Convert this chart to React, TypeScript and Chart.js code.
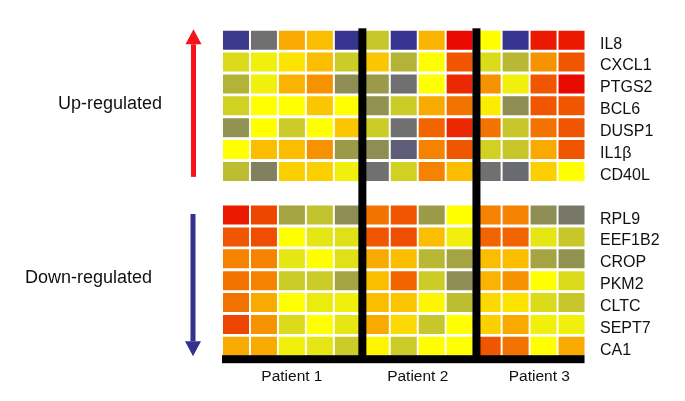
import React, { useEffect, useRef } from 'react';
import { Chart, registerables } from 'chart.js';

Chart.register(...registerables);

// 13 sample columns: Patient 1 (5), Patient 2 (4), Patient 3 (4)
const columns = ['P1-a', 'P1-b', 'P1-c', 'P1-d', 'P1-e', 'P2-a', 'P2-b', 'P2-c', 'P2-d', 'P3-a', 'P3-b', 'P3-c', 'P3-d'];
const patients = ['Patient 1', 'Patient 2', 'Patient 3'];
const patientLabelColumn = [2, 6.5, 10.85];
const dividerColumns = [4.52, 8.6];

const upGenes = ['IL8', 'CXCL1', 'PTGS2', 'BCL6', 'DUSP1', 'IL1β', 'CD40L'];
const downGenes = ['RPL9', 'EEF1B2', 'CROP', 'PKM2', 'CLTC', 'SEPT7', 'CA1'];

// expression scores: -3 blue, -2 grey, -1 olive, 0 olive-yellow, 1 yellow, 2 orange, 3 red
const upValues = [
  [-2.9, -2.0, 1.9, 1.7, -3.0, -0.1, -3.0, 1.8, 3.0, 1.0, -3.0, 2.9, 2.9],
  [0.3, 0.7, 1.3, 1.7, 0.0, 1.6, -0.5, 1.0, 2.5, 0.3, -0.4, 2.1, 2.5],
  [-0.5, 0.7, 1.8, 2.1, -1.3, -1.0, -2.0, 1.0, 2.8, 2.1, 0.7, 2.5, 3.0],
  [0.1, 1.0, 1.0, 1.6, 1.0, -1.2, 0.0, 1.9, 2.3, 1.2, -1.3, 2.5, 2.5],
  [-1.2, 1.0, 0.0, 1.0, 1.6, 0.0, -2.0, 2.4, 2.8, 2.3, -0.1, 2.3, 2.5],
  [1.0, 1.7, 1.7, 2.1, -1.0, -1.3, -2.3, 2.2, 2.5, 0.1, -0.1, 1.9, 2.5],
  [-0.3, -1.6, 1.5, 1.5, 0.7, -2.0, 0.1, 2.2, 1.7, -2.0, -2.1, 1.5, 1.0],
];
const downValues = [
  [2.9, 2.6, -0.8, -0.2, -1.3, 2.3, 2.5, -1.0, 1.0, 2.2, 2.2, -1.3, -1.8],
  [2.5, 2.55, 1.0, 0.5, 0.4, 2.5, 2.55, 1.7, 0.7, 2.4, 2.4, 0.5, -0.1],
  [2.2, 2.2, 0.5, 1.0, 0.4, 1.9, 1.7, -0.4, -0.8, 1.7, 1.7, -0.8, -1.2],
  [2.3, 2.2, 0.0, 0.0, -0.8, 1.7, 2.4, 0.0, -1.3, 1.8, 2.1, 1.0, 0.3],
  [2.3, 1.9, 1.0, 0.6, 0.7, 1.7, 1.6, 1.1, -0.3, 1.4, 1.3, 0.3, -0.1],
  [2.6, 2.1, 0.3, 1.0, 0.5, 1.9, 1.4, -0.1, 1.0, 1.5, 1.9, 0.7, 0.7],
  [1.9, 1.9, 0.7, 0.5, 0.0, 1.1, 0.0, 1.0, 1.0, 2.5, 2.3, 1.0, 1.9],
];

const colorStops: [number, [number, number, number]][] = [
  [-3, [53, 53, 143]],
  [-2, [112, 112, 112]],
  [-1, [154, 154, 72]],
  [0, [204, 204, 40]],
  [1, [255, 255, 0]],
  [2, [248, 160, 0]],
  [3, [232, 10, 0]],
];

function colorFor(v: number): string {
  if (v <= colorStops[0][0]) {
    const c = colorStops[0][1];
    return `rgb(${c[0]},${c[1]},${c[2]})`;
  }
  for (let i = 0; i < colorStops.length - 1; i++) {
    const [a, ca] = colorStops[i];
    const [b, cb] = colorStops[i + 1];
    if (v <= b) {
      const t = (v - a) / (b - a);
      const r = Math.round(ca[0] + (cb[0] - ca[0]) * t);
      const g = Math.round(ca[1] + (cb[1] - ca[1]) * t);
      const bl = Math.round(ca[2] + (cb[2] - ca[2]) * t);
      return `rgb(${r},${g},${bl})`;
    }
  }
  const c = colorStops[colorStops.length - 1][1];
  return `rgb(${c[0]},${c[1]},${c[2]})`;
}

const FONT = '"Liberation Sans", Arial, sans-serif';
const CELL_HALF = 0.435;

type RowSpec = { gene: string; row: number; values: number[] };
const rows: RowSpec[] = [
  ...upGenes.map((g, i) => ({ gene: g, row: i, values: upValues[i] })),
  ...downGenes.map((g, i) => ({ gene: g, row: i + 8, values: downValues[i] })),
];

const decorPlugin = {
  id: 'decor',
  afterDatasetsDraw(chart: any) {
    const { ctx, chartArea, scales } = chart;
    const x = scales.x;
    const y = scales.y;
    ctx.save();

    const yTop = y.getPixelForValue(-0.5);
    const yBottom = y.getPixelForValue(14.5);

    // bottom bar
    ctx.fillStyle = '#000';
    const barTop = yBottom - 2;
    const barH = 8;
    ctx.fillRect(chartArea.left, barTop, x.getPixelForValue(12) + 13 - chartArea.left, barH);

    // dividers
    dividerColumns.forEach((c) => {
      const px = x.getPixelForValue(c);
      ctx.fillRect(px - 4, yTop - 1, 8, barTop - yTop + 2);
    });

    // gene labels
    ctx.fillStyle = '#111';
    ctx.font = `16px ${FONT}`;
    ctx.textAlign = 'left';
    ctx.textBaseline = 'middle';
    rows.forEach((r) => {
      ctx.fillText(r.gene, 600, y.getPixelForValue(r.row) + 4);
    });

    // patient labels
    ctx.textAlign = 'center';
    ctx.font = `15.5px ${FONT}`;
    patients.forEach((p, i) => {
      ctx.fillText(p, x.getPixelForValue(patientLabelColumn[i]), yBottom + 20);
    });

    // arrows
    const drawArrow = (cx: number, yFrom: number, yTip: number, color: string) => {
      const dir = yTip < yFrom ? -1 : 1;
      const headLen = 15;
      const headBase = yTip - dir * headLen;
      ctx.fillStyle = color;
      ctx.fillRect(cx - 2.5, Math.min(yFrom, headBase), 5, Math.abs(headBase - yFrom));
      ctx.beginPath();
      ctx.moveTo(cx - 8, headBase);
      ctx.lineTo(cx + 8, headBase);
      ctx.lineTo(cx, yTip);
      ctx.closePath();
      ctx.fill();
    };
    drawArrow(193.5, y.getPixelForValue(6.25), yTop, '#f5141a');
    drawArrow(193, y.getPixelForValue(7.95), yBottom - 1, '#33338f');

    // group labels
    ctx.fillStyle = '#111';
    ctx.font = `18px ${FONT}`;
    ctx.textAlign = 'left';
    ctx.fillText('Up-regulated', 58, y.getPixelForValue(2.9));
    ctx.fillText('Down-regulated', 25, y.getPixelForValue(10.9));

    ctx.restore();
  },
};

export default function App() {
  const canvasRef = useRef<HTMLCanvasElement | null>(null);

  useEffect(() => {
    const canvas = canvasRef.current;
    if (!canvas) return;
    const datasets = rows.map((r) => ({
      label: r.gene,
      data: r.values.map(() => [r.row - CELL_HALF, r.row + CELL_HALF]),
      backgroundColor: r.values.map((v) => colorFor(v)),
      borderWidth: 0,
      grouped: false,
      barPercentage: 0.93,
      categoryPercentage: 1,
    }));
    const chart = new Chart(canvas, {
      type: 'bar',
      data: { labels: columns, datasets: datasets as any },
      options: {
        responsive: false,
        animation: false,
        devicePixelRatio: 1,
        layout: { padding: { left: 222, right: 99.5, top: 29.3, bottom: 43.8 } },
        plugins: { legend: { display: false }, tooltip: { enabled: false } },
        scales: {
          x: { type: 'category', display: false, offset: true },
          y: { type: 'linear', display: false, min: -0.5, max: 14.5, reverse: true },
        },
      },
      plugins: [decorPlugin],
    });
    return () => chart.destroy();
  }, []);

  return (
    <div style={{ position: 'absolute', left: 0, top: 0, width: 685, height: 401, background: '#fff' }}>
      <canvas ref={canvasRef} width={685} height={401} />
    </div>
  );
}
